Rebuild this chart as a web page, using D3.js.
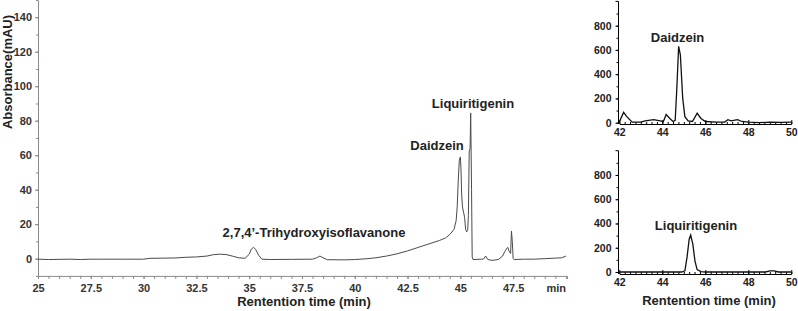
<!DOCTYPE html>
<html>
<head>
<meta charset="utf-8">
<script src="https://cdn.jsdelivr.net/npm/d3@7"></script>
<style>
    body { margin: 0; background: #fff; }
    svg { display: block; font-family: Arial, 'Liberation Sans', sans-serif; }
</style>
</head>
<body>
<svg width="798" height="311"></svg>
<script>
// main chromatogram (retention time in min, absorbance in mAU)
const mainTime = [
    25.0, 25.5, 26.0, 26.5, 27.0, 27.5, 28, 29, 30, 30.3, 31, 31.5, 32, 32.5, 33, 33.3, 33.6, 33.9,
    34.2, 34.5, 34.8, 35.0, 35.1, 35.2, 35.3, 35.45, 35.6, 36, 37, 38, 38.2, 38.35, 38.5, 38.7,
    39.5, 40, 40.5, 41, 41.5, 42, 42.5, 43, 43.5, 44, 44.3, 44.5, 44.7, 44.8, 44.85, 44.9, 44.95,
    45.0, 45.03, 45.06, 45.1, 45.15, 45.2, 45.25, 45.3, 45.35, 45.38, 45.42, 45.46, 45.49, 45.53,
    45.56, 45.6, 46, 46.1, 46.2, 46.3, 46.5, 46.8, 47.0, 47.1, 47.2, 47.25, 47.3, 47.38, 47.42,
    47.46, 47.5, 47.55, 48, 48.5, 49, 49.5, 49.8, 50.0
];
const mainAbs = [
    -0.3, -0.5, -0.4, -0.3, -0.5, -0.3, -0.3, -0.3, -0.3, 0.2, 0.3, 0.4, 0.8, 1.0, 1.5, 2.3, 2.6, 2.4,
    1.5, 0.5, 0.2, 2.5, 5.5, 6.5, 5.5, 2, -0.3, -0.5, -0.4, -0.3, 0.5, 1.5, 0.5, -0.6,
    -0.7, -0.5, -0.1, 0.5, 1.5, 2.8, 4.5, 6.5, 8.5, 10.5, 12, 14, 17, 22, 30, 45, 57,
    59, 52, 38, 30, 27, 24, 17, 15.5, 17, 25, 62, 64, 84.5, 40,
    1, -0.5, -0.3, -0.2, 1.5, -0.5, -1, -0.5, 1.5, 4, 6, 6.5, 4.5, 3, 16,
    10, 0, -0.5, -0.3, -0.3, 0, 0.3, 0.5, 1.5
];
const mainYTicks = [0, 20, 40, 60, 80, 100, 120, 140];
const mainXTicks = [25, 27.5, 30, 32.5, 35, 37.5, 40, 42.5, 45, 47.5];

// daidzein standard (inset, top)
const daidzeinTime = [
    42.0, 42.2, 42.35, 42.6, 43.0, 43.2, 43.6, 43.9, 44.05, 44.18, 44.35, 44.5, 44.6, 44.68, 44.76,
    44.84, 44.95, 45.05, 45.2, 45.4, 45.5, 45.62, 45.8, 46.0, 46.5, 46.9, 47.05, 47.2, 47.5,
    47.7, 48, 48.5, 49, 49.5, 50
];
const daidzeinAbs = [
    5, 85, 50, 5, 5, 15, 25, 15, 10, 68, 35, 10, 20, 300, 630,
    560, 200, 50, 15, 10, 40, 78, 35, 10, 5, 5, 25, 15, 25,
    10, 5, 0, 5, 3, 5
];

// liquiritigenin standard (inset, bottom)
const liqTime = [42, 44.9, 45.05, 45.15, 45.25, 45.32, 45.42, 45.52, 45.62, 45.8, 46, 48.8, 49.0, 49.2, 49.4, 50];
const liqAbs = [0, 0, 10, 120, 270, 305, 230, 90, 20, 3, 0, 0, 10, 10, 0, 0];

const insetYTicks = [0, 200, 400, 600, 800];
const insetXTicks = [42, 44, 46, 48, 50];

const svg = d3.select('svg');

// ---------- main chromatogram ----------
const x = d3.scaleLinear().domain([25, 50.05]).range([38, 567]);
const y = d3.scaleLinear().domain([-10, 150]).range([275.9, 0]);
const grey = '#8a8a8a';

// minor ticks first, then the labelled ones
svg.append('g')
    .attr('transform', 'translate(0,275.9)')
    .call(d3.axisBottom(x).tickValues(d3.range(25, 50.01, 0.5)).tickSize(3).tickFormat(''))
    .call((g) => g.selectAll('line,path').attr('stroke', grey));

const xAxis = svg.append('g')
    .attr('transform', 'translate(0,275.9)')
    .call(d3.axisBottom(x).tickValues(mainXTicks).tickSize(3).tickSizeOuter(0).tickPadding(5)
        .tickFormat((d) => d));
xAxis.selectAll('path').remove();
xAxis.selectAll('line').attr('stroke', grey);
xAxis.selectAll('text')
    .attr('font-size', 11).attr('font-weight', 'bold').attr('fill', '#333');

svg.append('text')
    .attr('x', 566).attr('y', 292)
    .attr('text-anchor', 'end')
    .attr('font-size', 11).attr('font-weight', 'bold').attr('fill', '#333')
    .text('min');

svg.append('g')
    .attr('transform', 'translate(38,0)')
    .call(d3.axisLeft(y).tickValues(d3.range(-10, 150.1, 10)).tickSize(2).tickSizeOuter(0).tickFormat(''))
    .call((g) => g.selectAll('line,path').attr('stroke', grey));

const yAxis = svg.append('g')
    .attr('transform', 'translate(38,0)')
    .call(d3.axisLeft(y).tickValues(mainYTicks).tickSize(3).tickPadding(3));
yAxis.selectAll('path').remove();
yAxis.selectAll('line').attr('stroke', grey);
yAxis.selectAll('text')
    .attr('font-size', 11).attr('font-weight', 'bold').attr('fill', '#333');

const mainLine = d3.line()
    .x((d, i) => x(mainTime[i]))
    .y((d) => y(d));

svg.append('path')
    .datum(mainAbs)
    .attr('fill', 'none')
    .attr('stroke', '#4a4a4a')
    .attr('stroke-width', 1)
    .attr('d', mainLine);

svg.append('text')
    .attr('transform', 'translate(12,72) rotate(-90)')
    .attr('text-anchor', 'middle')
    .attr('font-size', 13).attr('font-weight', 'bold').attr('fill', '#222')
    .text('Absorbance(mAU)');

svg.append('text')
    .attr('x', 304).attr('y', 306)
    .attr('text-anchor', 'middle')
    .attr('font-size', 13).attr('font-weight', 'bold').attr('fill', '#222')
    .text('Rentention time (min)');

// peak labels
const labelStyle = (t) => t.attr('font-size', 13).attr('font-weight', 'bold').attr('fill', '#222');
svg.append('text').attr('x', 314).attr('y', 237).attr('text-anchor', 'middle')
    .call(labelStyle).text('2,7,4\u2019-Trihydroxyisoflavanone');
svg.append('text').attr('x', 437).attr('y', 150).attr('text-anchor', 'middle')
    .call(labelStyle).text('Daidzein');
svg.append('text').attr('x', 473).attr('y', 108).attr('text-anchor', 'middle')
    .call(labelStyle).text('Liquiritigenin');

// ---------- insets ----------
function inset(top, zeroY, xAxisY, times, values) {
    const ix = d3.scaleLinear().domain([42, 50]).range([619.3, 791.3]);
    const perUnit = 0.1213;
    const iy = d3.scaleLinear().domain([0, 1000]).range([zeroY, zeroY - 1000 * perUnit]);

    // x axis with ticks pointing inward
    svg.append('g')
        .attr('transform', `translate(0,${xAxisY})`)
        .call(d3.axisTop(ix).tickValues(d3.range(42, 50.01, 0.25)).tickSize(2).tickSizeOuter(0).tickFormat(''));
    const xa = svg.append('g')
        .attr('transform', `translate(0,${xAxisY})`)
        .call(d3.axisBottom(ix).tickValues(insetXTicks).tickSize(0).tickPadding(5));
    xa.selectAll('path').remove();
    xa.selectAll('text').attr('font-size', 10.5).attr('font-weight', 'bold').attr('fill', '#222');
    svg.append('g')
        .attr('transform', `translate(0,${xAxisY})`)
        .call(d3.axisTop(ix).tickValues(insetXTicks).tickSize(4).tickFormat(''))
        .call((g) => g.select('path').remove());

    // y axis
    svg.append('g')
        .attr('transform', 'translate(618.5,0)')
        .call(d3.axisLeft(iy).tickValues(d3.range(0, 1000, 100)).tickSize(2).tickSizeOuter(3).tickFormat(''))
        .call((g) => g.select('path').attr('d', `M-3,${iy(1000)}H0V${xAxisY}`));
    const ya = svg.append('g')
        .attr('transform', 'translate(618.5,0)')
        .call(d3.axisLeft(iy).tickValues(insetYTicks).tickSize(3).tickPadding(4));
    ya.selectAll('path').remove();
    ya.selectAll('text').attr('font-size', 10.5).attr('font-weight', 'bold').attr('fill', '#222');

    const line = d3.line()
        .x((d, i) => ix(times[i]))
        .y((d) => iy(d));
    svg.append('path')
        .datum(values)
        .attr('fill', 'none')
        .attr('stroke', '#111')
        .attr('stroke-width', 1.3)
        .attr('d', line);
}

inset(0, 122.7, 124, daidzeinTime, daidzeinAbs);
inset(150, 272, 274, liqTime, liqAbs);

svg.append('text').attr('x', 677.5).attr('y', 42).attr('text-anchor', 'middle')
    .call(labelStyle).text('Daidzein');
svg.append('text').attr('x', 696).attr('y', 230).attr('text-anchor', 'middle')
    .call(labelStyle).text('Liquiritigenin');
svg.append('text')
    .attr('x', 709).attr('y', 305)
    .attr('text-anchor', 'middle')
    .attr('font-size', 13).attr('font-weight', 'bold').attr('fill', '#222')
    .text('Rentention time (min)');
</script>
</body>
</html>
